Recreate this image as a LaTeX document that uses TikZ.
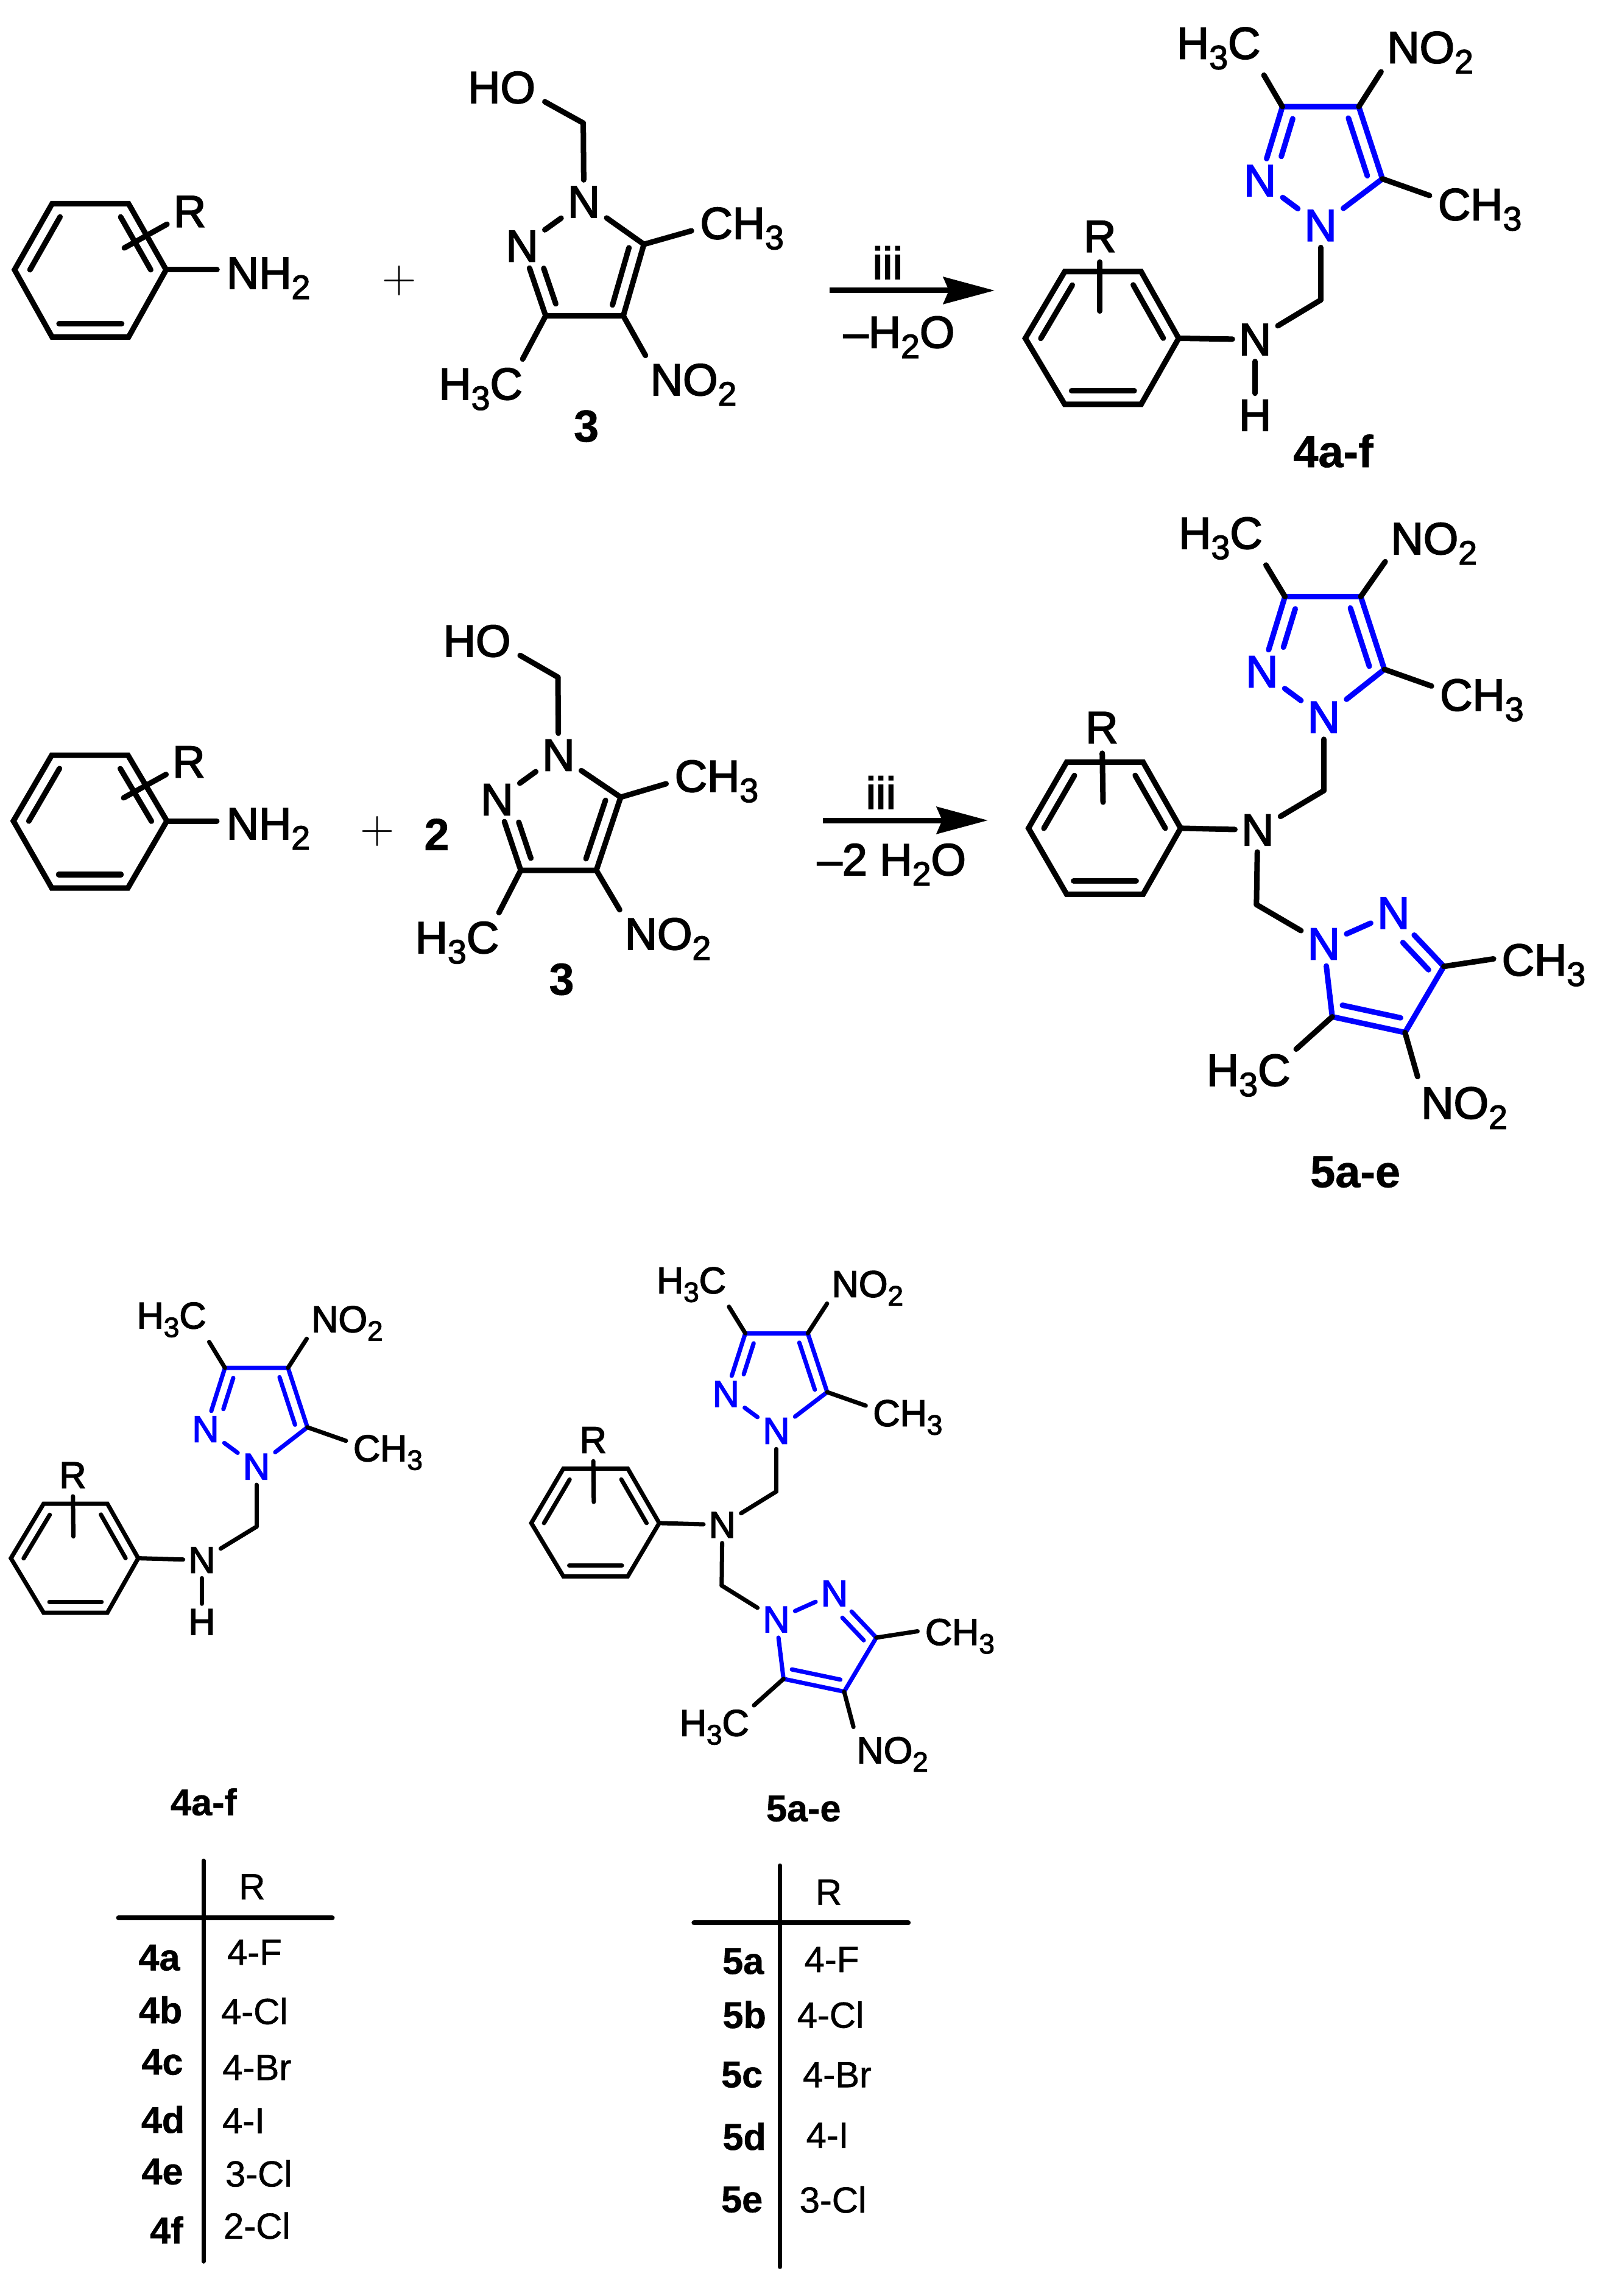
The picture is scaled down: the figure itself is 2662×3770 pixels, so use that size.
\documentclass[tikz,border=0pt]{standalone}
\usepackage{fontspec}
\newfontfamily\chem[FakeBold=2.5]{Liberation Sans}
\newfontfamily\chementry[FakeBold=1]{Liberation Sans}
\newfontfamily\chemplain[BoldFeatures={FakeBold=.8}]{Liberation Sans}
\usetikzlibrary{calc,arrows.meta}
\definecolor{ringblue}{RGB}{0,0,255}

\def\lblsize{21}
\def\bondw{.09cm}
\def\dblgap{.22cm}
\def\atomsep{.10cm}
\newcommand{\subn}[1]{\raisebox{-.23em}{\scalebox{.75}{#1}}}
\tikzset{
	bond/.style={line width=\bondw, line cap=round, line join=miter},
	subbond/.style={bond, shorten >=#1},
	lbl/.style={font=\chem\fontsize{\lblsize}{24}\selectfont, inner sep=0pt},
	group/.style={lbl, anchor=base west, xshift=-.05cm},
	atom/.style={lbl, inner sep=\atomsep},
	boldlbl/.style={font=\chemplain\bfseries\fontsize{\lblsize}{24}\selectfont, inner sep=0pt},
	entry/.style={font=\chementry\fontsize{17}{20}\selectfont, inner sep=0pt},
	rxnarrow/.style={line width=.09cm, -{Stealth[length=.84cm,width=.44cm,inset=.09cm]}},
	tablerule/.style={line cap=round, line width=.07cm},
	tablehead/.style={line cap=round, line width=.085cm},
	plusnode/.style={font=\fontsize{22.2}{24}\selectfont, inner sep=0pt}
}
% inner line of a double bond
\newcommand{\innerbond}[6][black]{
	\draw[bond,#1] ($(#2)!#4!(#3)!\dblgap!#6:(#3)$) -- ($(#2)!#5!(#3)!\dblgap!#6:(#3)$);
}
% phenyl ring
\newcommand{\benzring}[8]{
	\coordinate (#1tl) at (#3,#6);
	\coordinate (#1tr) at (#4,#6);
	\coordinate (#1r) at (#5,#7);
	\coordinate (#1br) at (#4,#8);
	\coordinate (#1bl) at (#3,#8);
	\coordinate (#1l) at (#2,#7);
	\draw[bond] (#1tl) -- (#1tr) -- (#1r) -- (#1br) -- (#1bl) -- (#1l) -- cycle;
	\innerbond{#1l}{#1tl}{.1}{.9}{-90}
	\innerbond{#1tr}{#1r}{.1}{.9}{-90}
	\innerbond{#1br}{#1bl}{.09}{.91}{-90}
}
% five membered ring
\newcommand{\pyrring}[3][black]{
	\draw[bond,#1] (#2n2) -- (#2c3) -- (#2c4) -- (#2c5) -- (#2n1);
	\draw[bond,#1] (#2n1) -- (#2n2);
	\innerbond[#1]{#2n2}{#2c3}{.38}{.89}{#3}
	\innerbond[#1]{#2c4}{#2c5}{.1}{.9}{#3}
}

\begin{document}
\begin{tikzpicture}[x=.01cm,y=-.01cm]
	\useasboundingbox[fill=white] (0,0) rectangle (2662,3770);

	\begin{scope}[x=.00995cm,y=-.00995cm]
	% aniline, first line
	\benzring{a}{24}{86}{212}{274}{336}{445}{556}
	\node[atom] (ra) at (313,349) {R};
	\coordinate (raend) at (205,409);
	\draw[bond] (ra) -- (raend);
	\node[group] (anh) at (378,476) {NH\subn{2}};
	\draw[subbond=.15cm] (ar) -- (anh.west|-ar);
	\node[plusnode] (plusa) at (659,463) {+};

	% alcohol 3, first line
	\coordinate (pac3) at (900,521);
	\coordinate (pac4) at (1028,521);
	\coordinate (pac5) at (1062,403);
	\coordinate (pach2) at (962,203);
	\node[atom] (pan1) at (963,333) {N};
	\node[atom] (pan2) at (861,406) {N};
	\pyrring{pa}{90}
	\node[group] (paho) at (776,170) {HO};
	\node[group] (pame3) at (728,659) {H\subn{3}C};
	\node[group] (pano) at (1077,652) {NO\subn{2}};
	\node[group] (pame5) at (1159,394) {CH\subn{3}};
	\draw[subbond=.17cm] (pach2) -- (paho.-15);
	\draw[bond] (pach2) -- (pan1);
	\draw[subbond=.16cm] (pac3) -- ([xshift=-.08cm]pame3.north east);
	\draw[subbond=.15cm] (pac4) -- (pano.north west);
	\draw[subbond=.14cm] (pac5) -- (pame5.west);
	\node[boldlbl] (cpda) at (967,703) {3};
	\end{scope}

	% first arrow
	\coordinate (arra) at (1362,477);
	\coordinate (arrb) at (1633,477);
	\draw[rxnarrow] (arra) -- (arrb);
	\node[group] (conda) at (1437,458) {iii};
	\node[group] (condb) at (1389,571) {–H\subn{2}O};

	\begin{scope}[shift={(8,0)},x=.00995cm,y=-.00995cm]
	% product 4, first line
	\benzring{c}{1683}{1748}{1874}{1936}{448}{558}{667}
	\node[atom] (rc) at (1806,390) {R};
	\coordinate (rcend) at (1806,513);
	\draw[bond,shorten <=.06cm] (rc) -- (rcend);
	\node[atom] (cn) at (2062,560) {N};
	\node[atom] (ch) at (2062,685) {H};
	\coordinate (cch2) at (2170,495);
	\coordinate (pcc3) at (2107,176);
	\coordinate (pcc4) at (2233,176);
	\coordinate (pcc5) at (2272,295);
	\node[atom,ringblue] (pcn1) at (2170,372) {N};
	\node[atom,ringblue] (pcn2) at (2070,298) {N};
	\pyrring[ringblue]{pc}{-90}
	\node[group] (pcme3) at (1937,97) {H\subn{3}C};
	\node[group] (pcno) at (2284,104) {NO\subn{2}};
	\node[group] (pcme5) at (2368,363) {CH\subn{3}};
	\draw[bond] (cr) -- (cn);
	\draw[bond] (cn) -- (ch);
	\draw[bond] (cn) -- (cch2);
	\draw[bond] (cch2) -- (pcn1);
	\draw[subbond=.1cm] (pcc3) -- (pcme3.south east);
	\draw[subbond=.17cm] (pcc4) -- (pcno.base west);
	\draw[subbond=.14cm] (pcc5) -- (pcme5.165);
	\node[boldlbl] (cpdc) at (2191,744) {4a-f};
	\end{scope}

	% aniline, second line
	\benzring{b}{22}{85}{210}{274}{1240}{1348}{1458}
	\node[atom] (rb) at (310,1251) {R};
	\coordinate (rbend) at (203,1310);
	\draw[bond] (rb) -- (rbend);
	\node[group] (bnh) at (376,1378) {NH\subn{2}};
	\draw[subbond=.15cm] (br) -- (bnh.west|-br);
	\node[plusnode] (plusb) at (620,1365) {+};
	\node[boldlbl] (twob) at (717,1370) {2};

	% alcohol 3, second line
	\coordinate (pbc3) at (855,1429);
	\coordinate (pbc4) at (979,1429);
	\coordinate (pbc5) at (1019,1309);
	\coordinate (pbch2) at (916,1112);
	\node[atom] (pbn1) at (917,1240) {N};
	\node[atom] (pbn2) at (816,1313) {N};
	\pyrring{pb}{90}
	\node[group] (pbho) at (732,1078) {HO};
	\node[group] (pbme3) at (686,1565) {H\subn{3}C};
	\node[group] (pbno) at (1030,1559) {NO\subn{2}};
	\node[group] (pbme5) at (1112,1300) {CH\subn{3}};
	\draw[subbond=.17cm] (pbch2) -- (pbho.-15);
	\draw[bond] (pbch2) -- (pbn1);
	\draw[subbond=.16cm] (pbc3) -- ([xshift=-.08cm]pbme3.north east);
	\draw[subbond=.15cm] (pbc4) -- (pbno.north west);
	\draw[subbond=.14cm] (pbc5) -- (pbme5.west);
	\node[boldlbl] (cpdb) at (922,1608) {3};

	% second arrow
	\coordinate (arrc) at (1351,1347);
	\coordinate (arrd) at (1622,1347);
	\draw[rxnarrow] (arrc) -- (arrd);
	\node[group] (condc) at (1426,1328) {iii};
	\node[group] (condd) at (1346,1437) {–2 H\subn{2}O};

	\begin{scope}[shift={(8.25,4.1)},x=.00995cm,y=-.00995cm]
	% product 5, second line
	\benzring{d}{1688}{1751}{1877}{1939}{1253}{1362}{1471}
	\node[atom] (rd) at (1809,1196) {R};
	\coordinate (rdend) at (1811,1319);
	\draw[bond,shorten <=.06cm] (rd) -- (rdend);
	\node[atom] (dn) at (2066,1365) {N};
	\coordinate (dch2) at (2175,1300);
	\coordinate (ech2) at (2064,1488);
	\coordinate (pdc3) at (2111,980);
	\coordinate (pdc4) at (2236,980);
	\coordinate (pdc5) at (2275,1100);
	\node[atom,ringblue] (pdn1) at (2175,1179) {N};
	\node[atom,ringblue] (pdn2) at (2073,1104) {N};
	\pyrring[ringblue]{pd}{-90}
	\node[group] (pdme3) at (1940,901) {H\subn{3}C};
	\node[group] (pdno) at (2290,910) {NO\subn{2}};
	\node[group] (pdme5) at (2371,1168) {CH\subn{3}};
	\coordinate (pec3) at (2373,1590);
	\coordinate (pec4) at (2309,1699);
	\coordinate (pec5) at (2189,1673);
	\node[atom,ringblue] (pen1) at (2175,1553) {N};
	\node[atom,ringblue] (pen2) at (2290,1502) {N};
	\pyrring[ringblue]{pe}{-90}
	\node[group] (peme3) at (2473,1605) {CH\subn{3}};
	\node[group] (peme5) at (1986,1787) {H\subn{3}C};
	\node[group] (peno) at (2340,1841) {NO\subn{2}};
	\draw[bond] (dr) -- (dn);
	\draw[bond] (dn) -- (dch2);
	\draw[bond] (dch2) -- (pdn1);
	\draw[bond] (dn) -- (ech2);
	\draw[bond] (ech2) -- (pen1);
	\draw[subbond=.1cm] (pdc3) -- (pdme3.south east);
	\draw[subbond=.15cm] (pdc4) -- (pdno.base west);
	\draw[subbond=.14cm] (pdc5) -- (pdme5.165);
	\draw[subbond=.13cm] (pec3) -- (peme3.170);
	\draw[subbond=.12cm] (pec5) -- (peme5.north east);
	\draw[subbond=.19cm] (pec4) -- (peno.155);
	\node[boldlbl] (cpdd) at (2227,1929) {5a-e};
	\end{scope}

	% the smaller copies
	\def\lblsize{17.4}
	\def\bondw{.07cm}
	\def\dblgap{.18cm}
	\def\atomsep{.08cm}

	\begin{scope}[shift={(0,10.25)},x=.00995cm,y=-.00995cm]
	% 4a-f
	\benzring{e}{18}{72}{177}{228}{2470}{2560}{2650}
	\node[atom] (re) at (120,2423) {R};
	\coordinate (reend) at (121,2524);
	\draw[bond,shorten <=.05cm] (re) -- (reend);
	\node[atom] (en) at (333,2563) {N};
	\node[atom] (eh) at (333,2665) {H};
	\coordinate (fch2) at (423,2508);
	\coordinate (pfc3) at (371,2246);
	\coordinate (pfc4) at (475,2246);
	\coordinate (pfc5) at (507,2344);
	\node[atom,ringblue] (pfn1) at (423,2409) {N};
	\node[atom,ringblue] (pfn2) at (339,2347) {N};
	\pyrring[ringblue]{pf}{-90}
	\node[group] (pfme3) at (230,2181) {H\subn{3}C};
	\node[group] (pfno) at (518,2187) {NO\subn{2}};
	\node[group] (pfme5) at (587,2400) {CH\subn{3}};
	\draw[bond] (er) -- (en);
	\draw[bond] (en) -- (eh);
	\draw[bond] (en) -- (fch2);
	\draw[bond] (fch2) -- (pfn1);
	\draw[subbond=.08cm] (pfc3) -- (pfme3.south east);
	\draw[subbond=.13cm] (pfc4) -- (pfno.base west);
	\draw[subbond=.12cm] (pfc5) -- (pfme5.165);
	\node[boldlbl] (cpde) at (336,2962) {4a-f};
	\end{scope}

	\begin{scope}[shift={(4.25,10.25)},x=.00995cm,y=-.00995cm]
	% 5a-e
	\benzring{f}{872}{925}{1031}{1083}{2412}{2502}{2590}
	\node[atom] (rf) at (974,2365) {R};
	\coordinate (rfend) at (975,2467);
	\draw[bond,shorten <=.05cm] (rf) -- (rfend);
	\node[atom] (fn) at (1187,2505) {N};
	\coordinate (gch2) at (1276,2450);
	\coordinate (hch2) at (1186,2605);
	\coordinate (pgc3) at (1225,2189);
	\coordinate (pgc4) at (1328,2189);
	\coordinate (pgc5) at (1360,2286);
	\node[atom,ringblue] (pgn1) at (1276,2350) {N};
	\node[atom,ringblue] (pgn2) at (1193,2289) {N};
	\pyrring[ringblue]{pg}{-90}
	\node[group] (pgme3) at (1083,2123) {H\subn{3}C};
	\node[group] (pgno) at (1372,2129) {NO\subn{2}};
	\node[group] (pgme5) at (1440,2342) {CH\subn{3}};
	\coordinate (phc3) at (1441,2691);
	\coordinate (phc4) at (1388,2780);
	\coordinate (phc5) at (1288,2759);
	\node[atom,ringblue] (phn1) at (1276,2661) {N};
	\node[atom,ringblue] (phn2) at (1372,2618) {N};
	\pyrring[ringblue]{ph}{-90}
	\node[group] (phme3) at (1526,2703) {CH\subn{3}};
	\node[group] (phme5) at (1121,2853) {H\subn{3}C};
	\node[group] (phno) at (1413,2898) {NO\subn{2}};
	\draw[bond] (fr) -- (fn);
	\draw[bond] (fn) -- (gch2);
	\draw[bond] (gch2) -- (pgn1);
	\draw[bond] (fn) -- (hch2);
	\draw[bond] (hch2) -- (phn1);
	\draw[subbond=.08cm] (pgc3) -- (pgme3.south east);
	\draw[subbond=.13cm] (pgc4) -- (pgno.base west);
	\draw[subbond=.12cm] (pgc5) -- (pgme5.165);
	\draw[subbond=.12cm] (phc3) -- (phme3.170);
	\draw[subbond=.1cm] (phc5) -- (phme5.north east);
	\draw[subbond=.18cm] (phc4) -- (phno.155);
	\node[boldlbl] (cpdf) at (1321,2973) {5a-e};
	\end{scope}

	\begin{scope}[shift={(.75,15.15)},x=.00995cm,y=-.00995cm]
	% table of 4
	\coordinate (ta) at (335,3054);
	\coordinate (tb) at (335,3715);
	\coordinate (tc) at (195,3148);
	\coordinate (td) at (547,3148);
	\draw[tablerule] (ta) -- (tb);
	\draw[tablehead] (tc) -- (td);
	\node[entry] (trh) at (415,3097) {R};
	\node[boldlbl] (la) at (262,3214) {4a};
	\node[boldlbl] (lb) at (264,3300) {4b};
	\node[boldlbl] (lc) at (267,3386) {4c};
	\node[boldlbl] (ld) at (268,3481) {4d};
	\node[boldlbl] (le) at (267,3567) {4e};
	\node[boldlbl] (lf) at (274,3663) {4f};
	\node[entry] (va) at (419,3205) {4-F};
	\node[entry] (vb) at (419,3302) {4-Cl};
	\node[entry] (vc) at (423,3395) {4-Br};
	\node[entry] (vd) at (401,3483) {4-I};
	\node[entry] (ve) at (426,3570) {3-Cl};
	\node[entry] (vf) at (423,3656) {2-Cl};

	% table of 5
	\coordinate (te) at (1286,3062);
	\coordinate (tf) at (1286,3724);
	\coordinate (tg) at (1144,3156);
	\coordinate (th) at (1497,3156);
	\draw[tablerule] (te) -- (tf);
	\draw[tablehead] (tg) -- (th);
	\node[entry] (tsh) at (1366,3106) {R};
	\node[boldlbl] (ma) at (1225,3220) {5a};
	\node[boldlbl] (mb) at (1227,3308) {5b};
	\node[boldlbl] (mc) at (1223,3407) {5c};
	\node[boldlbl] (md) at (1227,3509) {5d};
	\node[boldlbl] (me) at (1223,3613) {5e};
	\node[entry] (wa) at (1371,3217) {4-F};
	\node[entry] (wb) at (1369,3308) {4-Cl};
	\node[entry] (wc) at (1380,3407) {4-Br};
	\node[entry] (wd) at (1364,3507) {4-I};
	\node[entry] (we) at (1373,3613) {3-Cl};
	\end{scope}
\end{tikzpicture}
\end{document}
